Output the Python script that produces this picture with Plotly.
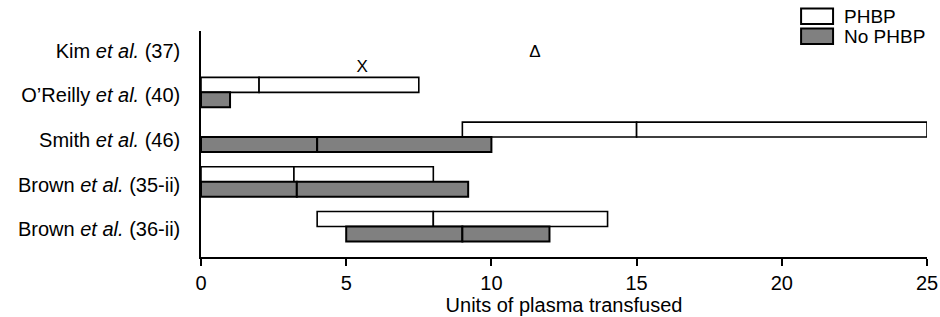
import plotly.graph_objects as go

# ---- data ----
studies = ["Kim <i>et al.</i> (37)", "O\u2019Reilly <i>et al.</i> (40)", "Smith <i>et al.</i> (46)",
           "Brown <i>et al.</i> (35-ii)", "Brown <i>et al.</i> (36-ii)"]
phbp_low = [None, 0, 9, 0, 4]
phbp_med = [None, 2, 15, 3.2, 8]
phbp_high = [None, 7.5, 25, 8, 14]
nophbp_low = [None, 0, 0, 0, 5]
nophbp_med = [None, 0, 4, 3.3, 9]
nophbp_high = [None, 1, 10, 9.2, 12]
# Kim et al. only reported point values (marked with symbols)
kim_symbols = ["X", "\u0394"]
kim_values = [5.55, 11.5]
x_ticks = [0, 5, 10, 15, 20, 25]

FONT = "Liberation Sans, Arial, sans-serif"
ypos = list(range(len(studies)))


def segments(low, med, high):
    ys, bases, widths = [], [], []
    for i, (l, m, h) in enumerate(zip(low, med, high)):
        if l is None:
            continue
        if m > l:
            ys.append(i); bases.append(l); widths.append(m - l)
        ys.append(i); bases.append(m); widths.append(h - m)
    return ys, bases, widths


fig = go.Figure()
bw = 0.335
shift = -0.067
y1, b1, w1 = segments(phbp_low, phbp_med, phbp_high)
fig.add_trace(go.Bar(y=y1, x=w1, base=b1, orientation="h", width=bw, offset=shift - bw,
                     marker=dict(color="white", line=dict(color="black", width=1.6)),
                     name="PHBP", showlegend=False))
y2, b2, w2 = segments(nophbp_low, nophbp_med, nophbp_high)
fig.add_trace(go.Bar(y=y2, x=w2, base=b2, orientation="h", width=bw, offset=shift,
                     marker=dict(color="#808080", line=dict(color="black", width=2)),
                     name="No PHBP", showlegend=False))
fig.add_trace(go.Scatter(x=kim_values, y=[0.39, 0.05], mode="text", text=kim_symbols,
                         textfont=dict(family=FONT, size=17, color="black"), showlegend=False,
                         cliponaxis=False))

# manual legend
L, R, T, B = 200.5, 927, 31, 257.5
def px(x): return (x - L) / (R - L)
def py(y): return (B - y) / (B - T)
fig.add_shape(type="rect", xref="paper", yref="paper", x0=px(801), x1=px(833), y0=py(24), y1=py(8.5),
              line=dict(color="black", width=2), fillcolor="white")
fig.add_shape(type="rect", xref="paper", yref="paper", x0=px(801), x1=px(833), y0=py(44), y1=py(28.5),
              line=dict(color="black", width=2), fillcolor="#808080")
fig.add_annotation(xref="paper", yref="paper", x=px(842), y=py(16.5), text="PHBP", showarrow=False,
                   xanchor="left", yanchor="middle", font=dict(family=FONT, size=19, color="black"))
fig.add_annotation(xref="paper", yref="paper", x=px(842), y=py(36.5), text="No PHBP", showarrow=False,
                   xanchor="left", yanchor="middle", font=dict(family=FONT, size=19, color="black"))

fig.update_layout(
    width=940, height=317, margin=dict(l=200.5, r=13, t=31, b=59.5, autoexpand=False),
    plot_bgcolor="white", paper_bgcolor="white", barmode="overlay",
    font=dict(family=FONT, size=20, color="black"),
    xaxis=dict(range=[0, 25], tickvals=x_ticks, ticks="outside", ticklen=7, tickwidth=1.5,
               tickcolor="black", showline=True, linecolor="black", linewidth=1.5, automargin=False,
               showgrid=False, zeroline=False, title=dict(text="Units of plasma transfused",
               font=dict(size=20), standoff=2), tickfont=dict(size=20)),
    yaxis=dict(range=[4.616, -0.44], tickvals=ypos, ticktext=studies, showline=True, automargin=False,
               linecolor="black", linewidth=1.5, showgrid=False, zeroline=False, ticks="",
               ticklabelstandoff=15, tickfont=dict(size=20)),
)
fig.write_html("out.html", config={"displayModeBar": False},
               post_script="document.body.style.margin='0px';document.body.style.overflow='hidden';")
